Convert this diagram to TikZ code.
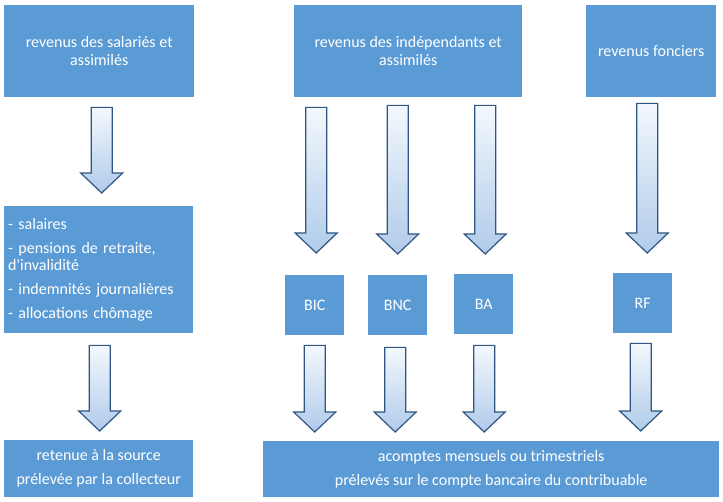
\documentclass[tikz,border=0pt]{standalone}
\usepackage{fontspec}
\setmainfont{Carlito}[Ligatures=TeXOff]
\usetikzlibrary{calc}
\definecolor{boxblue}{RGB}{91,155,213}
\definecolor{arrowline}{RGB}{47,85,130}
\definecolor{arrowtop}{RGB}{243,248,253}
\definecolor{arrowbottom}{RGB}{176,203,234}

\tikzset{
  revbox/.style={fill=boxblue, text=white, anchor=north west, inner sep=3pt, align=center,
    font=\fontsize{16}{18}\selectfont},
  blockarrow/.style={draw=arrowline, line width=1.2pt, line join=miter,
    top color=arrowtop, bottom color=arrowbottom,
    to path={let \p1=(\tikztostart), \p2=(\tikztotarget) in
      (\x1-10.5pt,\y1) -- (\x1+10.5pt,\y1) -- (\x1+10.5pt,\y2+20pt) -- (\x1+21pt,\y2+20pt)
      -- (\x1,\y2) -- (\x1-21pt,\y2+20pt) -- (\x1-10.5pt,\y2+20pt) -- cycle}}
}

\begin{document}
\begin{tikzpicture}[x=1pt, y=-1pt]
\useasboundingbox (0,0) rectangle (723,502);
% top row
\node[revbox, minimum width=190pt, minimum height=92pt] (salaried) at (4,5) {revenus des salariés et\\assimilés};
\node[revbox, minimum width=228pt, minimum height=92pt] (indep) at (294,5) {revenus des indépendants et\\assimilés};
\node[revbox, minimum width=130pt, minimum height=92pt] (fonciers) at (586,5) {revenus fonciers};
% middle row
\node[revbox, minimum width=189pt, minimum height=127pt, text width=181pt, align=left, inner xsep=4pt,
  font=\fontsize{16}{17}\selectfont] (salarylist) at (4,206)
  {- salaires\\[7pt]- pensions de retraite,\\d'invalidité\\[7pt]- indemnités journalières\\[7pt]- allocations chômage};
\node[revbox, minimum width=59pt, minimum height=60pt] (bic) at (285,275) {BIC};
\node[revbox, minimum width=59pt, minimum height=60pt] (bnc) at (368,275) {BNC};
\node[revbox, minimum width=59pt, minimum height=60pt] (ba) at (454,274) {BA};
\node[revbox, minimum width=59pt, minimum height=60pt] (rf) at (613,273) {RF};
% bottom row
\node[revbox, minimum width=189pt, minimum height=57pt] (source) at (4,440) {retenue à la source\\[6pt]prélevée par la collecteur};
\node[revbox, minimum width=456pt, minimum height=56pt] (acomptes) at (263,441) {acomptes mensuels ou trimestriels\\[6pt]prélevés sur le compte bancaire du contribuable};
% arrows
\draw[blockarrow] ($(salaried.south)+(2.5,10)$) to ($(salarylist.north)+(2.5,-13)$);
\draw[blockarrow] ($(indep.south -| bic.north)+(1.5,10)$) to ($(bic.north)+(1.5,-22)$);
\draw[blockarrow] ($(indep.south -| bnc.north)+(0,8)$) to ($(bnc.north)+(0,-21)$);
\draw[blockarrow] ($(indep.south -| ba.north)+(1.5,8)$) to ($(ba.north)+(1.5,-20)$);
\draw[blockarrow] ($(fonciers.south -| rf.north)+(4.5,6)$) to ($(rf.north)+(4.5,-20)$);
\draw[blockarrow] ($(salarylist.south)+(1,12)$) to ($(source.north)+(1,-9)$);
\draw[blockarrow] ($(bic.south)+(0,10)$) to ($(bic.south |- acomptes.north)+(0,-9)$);
\draw[blockarrow] ($(bnc.south)+(-2.5,12)$) to ($(bnc.south |- acomptes.north)+(-2.5,-9)$);
\draw[blockarrow] ($(ba.south)+(0.5,11)$) to ($(ba.south |- acomptes.north)+(0.5,-9)$);
\draw[blockarrow] ($(rf.south)+(-2,10)$) to ($(rf.south |- acomptes.north)+(-2,-10)$);
\end{tikzpicture}
\end{document}
